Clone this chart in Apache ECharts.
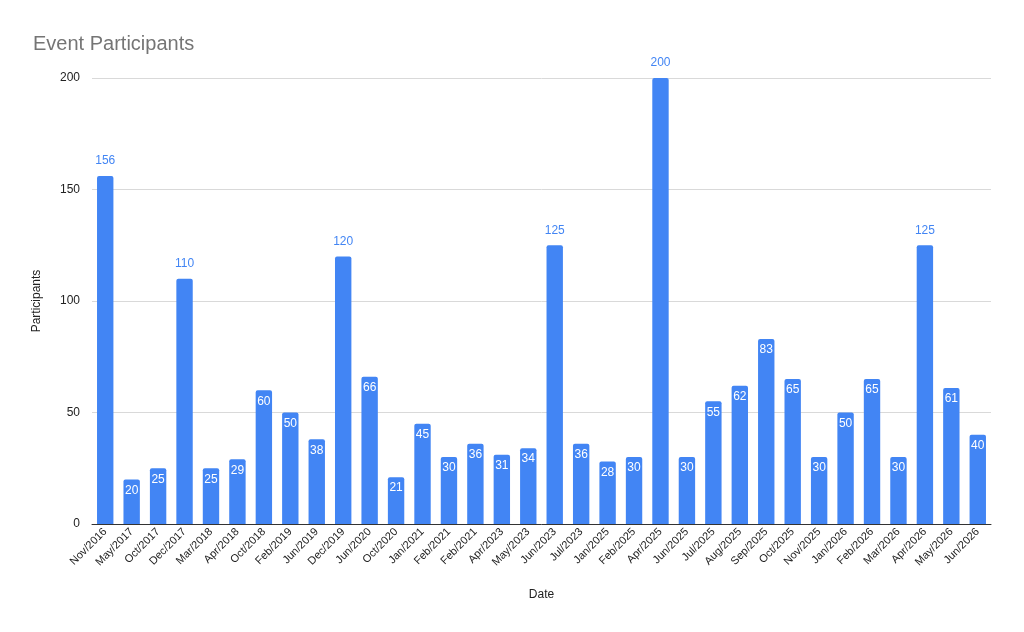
<!DOCTYPE html>
<html>
<head>
<meta charset="utf-8">
<script src="https://cdn.jsdelivr.net/npm/echarts@6/dist/echarts.min.js"></script>
<style>
html, body { margin: 0; padding: 0; background: #fff; }
#chart { width: 1024px; height: 632px; }
</style>
</head>
<body>
<div id="chart"></div>
<script>
var dates = ['Nov/2016', 'May/2017', 'Oct/2017', 'Dec/2017', 'Mar/2018', 'Apr/2018', 'Oct/2018',
    'Feb/2019', 'Jun/2019', 'Dec/2019', 'Jun/2020', 'Oct/2020', 'Jan/2021', 'Feb/2021', 'Feb/2021',
    'Apr/2023', 'May/2023', 'Jun/2023', 'Jul/2023', 'Jan/2025', 'Feb/2025', 'Apr/2025', 'Jun/2025',
    'Jul/2025', 'Aug/2025', 'Sep/2025', 'Oct/2025', 'Nov/2025', 'Jan/2026', 'Feb/2026', 'Mar/2026',
    'Apr/2026', 'May/2026', 'Jun/2026'];
var participants = [156, 20, 25, 110, 25, 29, 60, 50, 38, 120, 66, 21, 45, 30, 36, 31, 34, 125, 36,
    28, 30, 200, 30, 55, 62, 83, 65, 30, 50, 65, 30, 125, 61, 40];
var yTicks = [0, 50, 100, 150, 200];

var myChart = echarts.init(document.getElementById('chart'));

// tall bars get their label above in blue, the rest sit inside in white
var barData = participants.map(function (v) {
    if (v >= 100) {
        return { value: v, label: { position: 'top', color: '#4285f4', distance: 9 } };
    }
    return v;
});

var font = 'Arial, "Liberation Sans", sans-serif';

var option = {
    animation: false,
    textStyle: { fontFamily: font },
    title: {
        text: 'Event Participants',
        left: 28,
        top: 29,
        textStyle: { color: '#757575', fontSize: 20, fontWeight: 'normal', fontFamily: font }
    },
    grid: { left: 92, right: 33, top: 78, bottom: 108, containLabel: false },
    xAxis: {
        type: 'category',
        data: dates,
        name: 'Date',
        nameLocation: 'middle',
        nameGap: 65,
        nameTextStyle: { color: '#222', fontSize: 12, fontFamily: font },
        axisLine: { lineStyle: { color: '#333', width: 1 } },
        axisTick: { show: false },
        axisLabel: { interval: 0, rotate: 45, color: '#222', fontSize: 11, margin: 6, fontFamily: font }
    },
    yAxis: {
        type: 'value',
        min: yTicks[0],
        max: yTicks[yTicks.length - 1],
        interval: 50,
        name: 'Participants',
        nameLocation: 'middle',
        nameGap: 49,
        nameTextStyle: { color: '#222', fontSize: 12, fontFamily: font },
        axisLine: { show: false },
        axisTick: { show: false },
        axisLabel: { color: '#222', fontSize: 12, margin: 12, fontFamily: font },
        splitLine: { lineStyle: { color: '#d9d9d9' } }
    },
    series: [
        {
            type: 'bar',
            data: barData,
            barWidth: '62%',
            itemStyle: { color: '#4285f4', borderRadius: [2, 2, 0, 0] },
            label: {
                show: true,
                position: 'insideTop',
                distance: 5,
                color: '#fff',
                fontSize: 12,
                fontFamily: font
            }
        }
    ]
};
myChart.setOption(option);
</script>
</body>
</html>
